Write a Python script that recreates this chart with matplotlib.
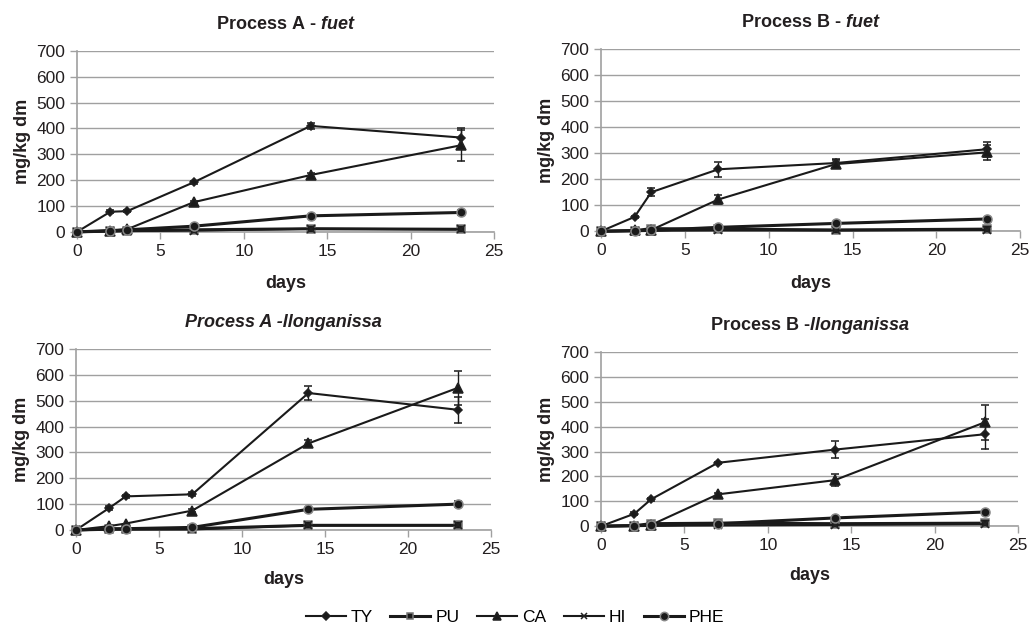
import matplotlib
matplotlib.use("Agg")
import matplotlib.pyplot as plt
from matplotlib.lines import Line2D

plt.rcParams['font.family'] = ['Liberation Sans', 'DejaVu Sans']
plt.rcParams['mathtext.fontset'] = 'custom'
plt.rcParams['mathtext.bfit'] = 'Liberation Sans:italic:bold'
plt.rcParams['mathtext.it'] = 'Liberation Sans:italic'
plt.rcParams['mathtext.bf'] = 'Liberation Sans:bold'

days = [0, 2, 3, 7, 14, 23]
compounds = ["TY", "PU", "CA", "HI", "PHE"]

# Process A - fuet
a_fuet = {
    "TY": [0, 78, 80, 192, 410, 365],
    "PU": [0, 3, 5, 8, 12, 10],
    "CA": [0, 5, 10, 115, 220, 335],
    "HI": [0, 2, 3, 5, 12, 10],
    "PHE": [0, 5, 8, 22, 62, 75],
}
a_fuet_err = {
    "TY": [0, 5, 5, 5, 12, 35],
    "PU": [0, 0, 0, 0, 0, 0],
    "CA": [0, 0, 3, 5, 8, 60],
    "HI": [0, 0, 0, 0, 0, 0],
    "PHE": [0, 0, 0, 3, 5, 10],
}

# Process B - fuet
b_fuet = {
    "TY": [0, 55, 150, 238, 262, 315],
    "PU": [0, 2, 10, 8, 5, 8],
    "CA": [0, 3, 5, 122, 258, 303],
    "HI": [0, 1, 2, 3, 3, 5],
    "PHE": [0, 2, 3, 15, 30, 47],
}
b_fuet_err = {
    "TY": [0, 5, 15, 28, 15, 28],
    "PU": [0, 0, 5, 0, 0, 0],
    "CA": [0, 0, 0, 18, 15, 30],
    "HI": [0, 0, 0, 0, 0, 0],
    "PHE": [0, 0, 0, 0, 0, 0],
}

# Process A - llonganissa
a_llon = {
    "TY": [0, 85, 130, 138, 530, 465],
    "PU": [0, 3, 3, 5, 18, 18],
    "CA": [0, 15, 25, 75, 335, 550],
    "HI": [0, 2, 3, 2, 18, 18],
    "PHE": [0, 5, 5, 10, 80, 100],
}
a_llon_err = {
    "TY": [0, 8, 5, 8, 28, 50],
    "PU": [0, 0, 0, 0, 0, 0],
    "CA": [0, 0, 0, 5, 15, 65],
    "HI": [0, 0, 0, 0, 0, 0],
    "PHE": [0, 0, 0, 0, 5, 12],
}

# Process B - llonganissa
b_llon = {
    "TY": [0, 50, 108, 255, 308, 370],
    "PU": [0, 2, 10, 12, 10, 12],
    "CA": [0, 2, 5, 128, 185, 418],
    "HI": [0, 1, 2, 3, 5, 8],
    "PHE": [0, 2, 3, 10, 33, 57],
}
b_llon_err = {
    "TY": [0, 5, 5, 5, 35, 60],
    "PU": [0, 0, 0, 0, 0, 0],
    "CA": [0, 0, 0, 5, 25, 70],
    "HI": [0, 0, 0, 0, 0, 0],
    "PHE": [0, 0, 0, 0, 0, 0],
}

markers = {"TY": "D", "PU": "s", "CA": "^", "HI": "x", "PHE": "o"}
msizes = {"TY": 4.5, "PU": 5.5, "CA": 6.5, "HI": 5.5, "PHE": 6.5}
lwidths = {"TY": 1.5, "PU": 2.2, "CA": 1.5, "HI": 1.5, "PHE": 2.2}
edges = {"TY": "#222222", "PU": "#777777", "CA": "#222222", "HI": "#222222", "PHE": "#888888"}

text_col = "#231f20"
grid_col = "#a0a0a0"


def draw_panel(ax, data, errs, title, xpad=11):
    for c in compounds:
        ax.errorbar(days, data[c], yerr=errs[c], color="#1a1a1a", lw=lwidths[c],
                    marker=markers[c], ms=msizes[c], mfc="#1a1a1a", mec=edges[c],
                    mew=1.1, ecolor="#1a1a1a", elinewidth=1, capsize=3,
                    clip_on=False, zorder=3)
    ax.set_xlim(0, 25)
    ax.set_ylim(0, 700)
    ax.set_xticks(range(0, 26, 5))
    ax.set_yticks(range(0, 701, 100))
    ax.yaxis.grid(True, color=grid_col, lw=1)
    ax.set_axisbelow(True)
    for s in ["top", "right"]:
        ax.spines[s].set_visible(False)
    for s in ["left", "bottom"]:
        ax.spines[s].set_color(grid_col)
        ax.spines[s].set_linewidth(1.2)
    ax.tick_params(axis="both", labelsize=12.5, colors=grid_col, labelcolor=text_col,
                   length=5, width=1)
    ax.set_xlabel("days", fontsize=13, fontweight="bold", color=text_col, labelpad=xpad)
    ax.set_ylabel("mg/kg dm", fontsize=13, fontweight="bold", color=text_col, labelpad=4)
    ax.set_title(title, fontsize=13, fontweight="bold", color=text_col, pad=16)


fig = plt.figure(figsize=(10.30, 6.37), dpi=100)
ax1 = fig.add_axes([0.0748, 0.636, 0.405, 0.284])
ax2 = fig.add_axes([0.5835, 0.637, 0.407, 0.286])
ax3 = fig.add_axes([0.0738, 0.168, 0.403, 0.284])
ax4 = fig.add_axes([0.5835, 0.174, 0.405, 0.273])

draw_panel(ax1, a_fuet, a_fuet_err, r"Process A - $\mathbfit{fuet}$", xpad=12)
draw_panel(ax2, b_fuet, b_fuet_err, r"Process B - $\mathbfit{fuet}$", xpad=12)
draw_panel(ax3, a_llon, a_llon_err, "Process A -llonganissa", xpad=10)
ax3.title.set_fontstyle("italic")
draw_panel(ax4, b_llon, b_llon_err, r"Process B -$\mathbfit{llonganissa}$", xpad=10)

handles = [Line2D([0], [0], color="#1a1a1a", lw=lwidths[c], marker=markers[c],
                  ms=msizes[c] - 0.5, mfc="#1a1a1a", mec=edges[c], mew=1.1) for c in compounds]
fig.legend(handles, compounds, loc="center", bbox_to_anchor=(0.5, 0.03), ncol=5,
           frameon=False, fontsize=12.5, handlelength=2.3, handletextpad=0.3,
           columnspacing=1.0)

fig.savefig("out.png", dpi=100)
